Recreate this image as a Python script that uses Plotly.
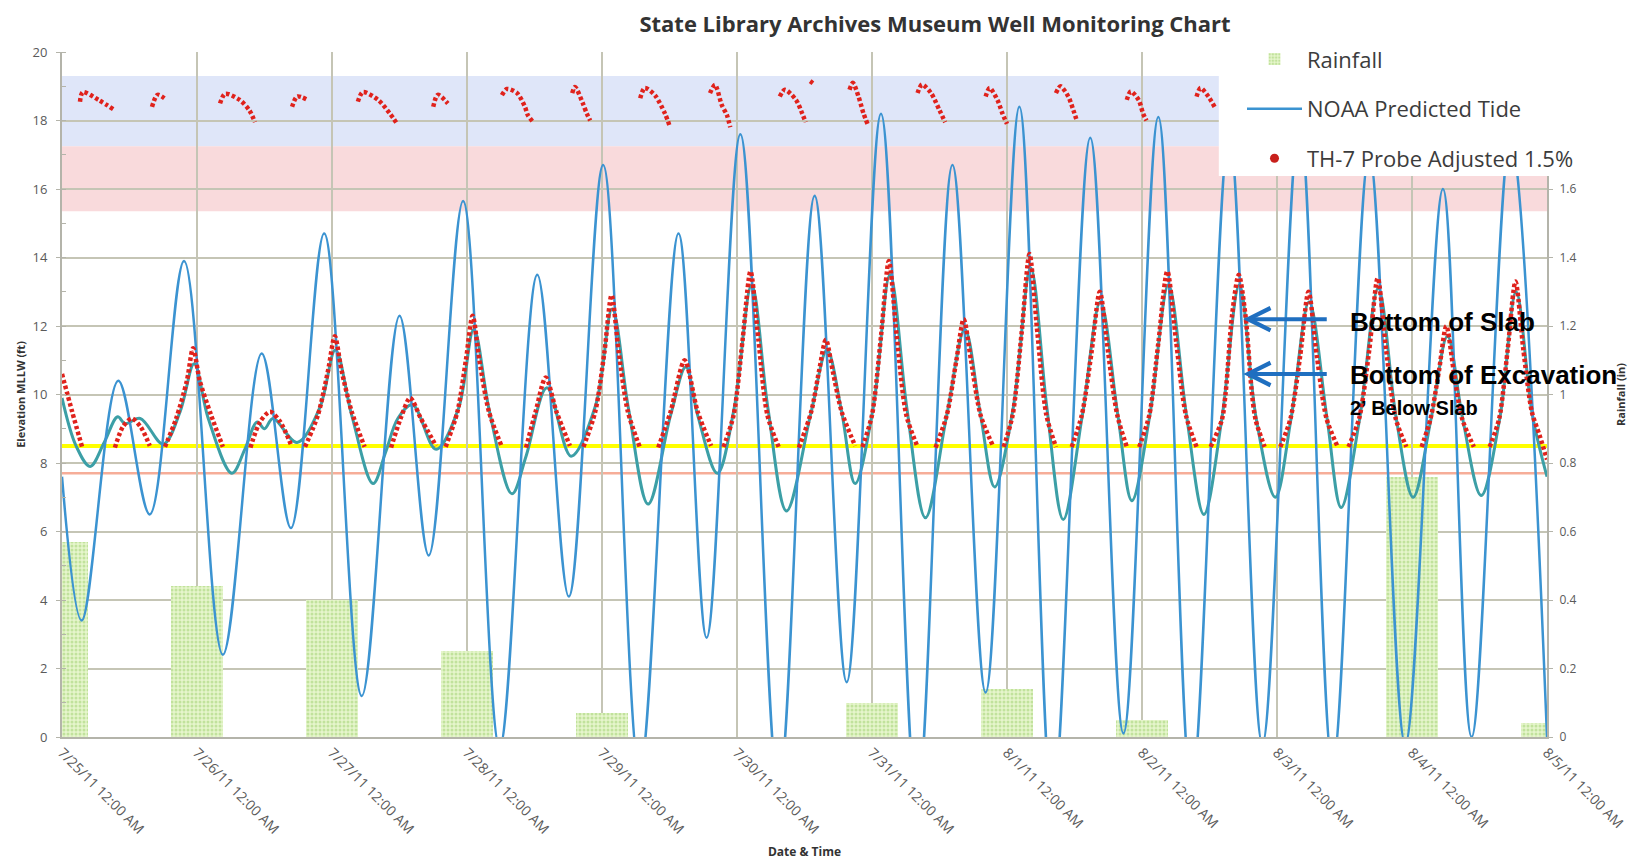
import pandas as pd
import plotly.graph_objects as go

START = pd.Timestamp("2011-07-25 00:00")
END = pd.Timestamp("2011-08-05 00:00")

# ---------------- data ----------------
day_dates = ["2011-07-25", "2011-07-26", "2011-07-27", "2011-07-28", "2011-07-29", "2011-07-30",
             "2011-07-31", "2011-08-01", "2011-08-02", "2011-08-03", "2011-08-04", "2011-08-05"]
day_labels = ["7/25/11 12:00 AM", "7/26/11 12:00 AM", "7/27/11 12:00 AM", "7/28/11 12:00 AM",
              "7/29/11 12:00 AM", "7/30/11 12:00 AM", "7/31/11 12:00 AM", "8/1/11 12:00 AM",
              "8/2/11 12:00 AM", "8/3/11 12:00 AM", "8/4/11 12:00 AM", "8/5/11 12:00 AM"]

rain_in = [0.57, 0.44, 0.40, 0.25, 0.07, 0.0, 0.10, 0.14, 0.05, 0.0, 0.76, 0.04]
rain_ticks = [0, 0.2, 0.4, 0.6, 0.8, 1.0, 1.2, 1.4, 1.6]
rain_tick_labels = ["0", "0.2", "0.4", "0.6", "0.8", "1", "1.2", "1.4", "1.6"]

# NOAA predicted tide: highs and lows (hours after 7/25 00:00, ft MLLW)
tide_hours = [0, 3.5, 10.0, 15.6, 21.7, 28.6, 35.5, 40.7, 46.6, 53.3, 60.0, 65.2, 71.3, 77.8,
              84.5, 90.1, 96.2, 102.7, 109.6, 114.6, 120.6, 127.4, 133.8, 139.5, 145.6, 152.0,
              158.3, 164.2, 170.2, 176.1, 182.8, 188.7, 194.9, 200.8, 207.5, 213.4, 220.0,
              225.9, 232.4, 238.8, 245.5, 250.6, 257.5, 264.0]
tide_ft = [7.6, 3.4, 10.4, 6.5, 13.9, 2.4, 11.2, 6.1, 14.7, 1.2, 12.3, 5.3, 15.65, -0.3,
           13.5, 4.1, 16.7, -1.0, 14.7, 2.9, 17.6, -1.5, 15.8, 1.6, 18.2, -2.0,
           16.7, 1.3, 18.4, -2.0, 17.5, 0.1, 18.1, -1.5, 17.6, -0.2, 18.0,
           -0.8, 17.0, -0.2, 16.0, 0.0, 17.5, 0.0]

# second (teal) well trace
teal_hours = [0, 2.5, 5.0, 7.5, 9.9, 11.2, 13.9, 18.0, 21.0, 23.5, 26.0, 30.2, 32.5, 34.7, 36.0,
              37.5, 41.8, 45.8, 48.6, 51.5, 55.3, 57.5, 59.7, 62.3, 66.5, 70.5, 73.2, 76.0,
              80.0, 82.5, 86.2, 90.5, 94.9, 97.8, 100.7, 104.2, 108.2, 110.9, 113.0, 116.5,
              119.5, 122.6, 125.5, 128.8, 133.2, 136.0, 138.6, 141.0, 144.2, 147.2, 150.2,
              153.5, 157.3, 160.5, 163.3, 165.8, 169.1, 172.2, 175.1, 178.0, 181.4, 184.6,
              187.7, 190.2, 193.4, 196.7, 199.9, 203.0, 206.2, 209.3, 212.3, 215.7, 218.5,
              221.7, 224.9, 227.4, 230.7, 234.0, 237.2, 240.2, 243.4, 246.3, 249.0, 252.3,
              255.6, 258.5, 261.4, 264.0]
teal_ft = [9.9, 8.5, 7.9, 8.6, 9.35, 9.15, 9.3, 8.55, 9.5, 10.9, 9.3, 7.7, 8.4, 9.2, 9.0,
           9.3, 8.6, 9.6, 11.3, 9.4, 7.4, 8.3, 9.3, 9.7, 8.4, 9.6, 11.9, 9.5,
           7.1, 8.2, 10.2, 8.2, 9.7, 12.5, 9.6, 6.8, 9.4, 10.8, 9.4, 7.7,
           9.6, 13.2, 9.6, 6.6, 9.5, 11.3, 9.5, 7.4, 9.6, 13.5, 9.6,
           6.4, 9.4, 11.9, 9.4, 7.3, 9.6, 13.7, 9.6, 6.35, 9.4, 12.7,
           9.4, 6.9, 9.4, 13.2, 9.4, 6.5, 9.3, 13.2, 9.3, 7.0, 9.3,
           12.7, 9.3, 6.7, 9.3, 13.1, 9.3, 7.0, 9.3, 11.7, 9.3, 7.05,
           9.3, 13.0, 9.4, 7.6]

# TH-7 probe readings (segments separated by None)
th7_hours = [0, 1.8, 3.6, None,
             3.2, 3.7, 6.5, 9.4, None,
             9.4, 10.8, 12.4, 14.0, 15.6, None,
             16.0, 17.0, 18.6, None,
             18.3, 20.3, 22.2, 23.3, 24.5, 26.5, 28.6, None,
             28.1, 29.0, 31.6, 33.3, 34.3, None,
             33.5, 35.2, 37.0, 38.8, 40.8, None,
             40.9, 41.8, 43.7, None,
             43.2, 45.5, 47.3, 48.5, 49.7, 51.5, 53.8, None,
             52.6, 53.5, 56.2, 58.3, 59.6, None,
             58.5, 60.2, 61.9, 63.8, 66.5, None,
             66.0, 66.8, 68.6, None,
             68.2, 70.3, 71.8, 73.0, 74.2, 75.9, 78.2, None,
             78.2, 79.1, 80.9, 82.3, 82.8, 83.7, None,
             82.5, 84.2, 86.0, 87.9, 90.3, None,
             90.7, 91.2, 92.6, 93.3, 93.9, None,
             92.7, 94.8, 96.4, 97.7, 99.0, 100.6, 102.7, None,
             102.8, 103.6, 105.4, 107.2, 108.1, None,
             106.0, 108.2, 110.7, 113.0, 115.4, None,
             115.2, 116.1, 117.3, 118.2, 118.8, None,
             117.6, 119.4, 121.0, 122.4, 123.8, 125.4, 127.4, None,
             127.6, 128.5, 130.5, 131.6, 132.2, None,
             133.0, 133.8, None,
             131.0, 133.2, 134.6, 135.8, 137.0, 138.6, 141.0, None,
             140.0, 140.6, 141.6, 142.5, 143.2, None,
             142.3, 144.0, 145.6, 147.0, 148.4, 150.1, 152.1, None,
             152.1, 152.9, 154.5, 156.0, 157.0, None,
             155.3, 157.3, 159.0, 160.3, 161.6, 163.3, 165.5, None,
             164.2, 164.9, 166.3, 167.2, 168.0, None,
             167.4, 169.0, 170.6, 172.0, 173.4, 175.0, 176.7, None,
             176.7, 177.5, 178.9, 179.8, 180.4, None,
             179.5, 181.3, 183.0, 184.5, 186.0, 187.6, 189.3, None,
             189.3, 190.0, 191.4, 192.2, 192.8, None,
             191.5, 193.3, 194.9, 196.5, 198.1, 199.8, 201.7, None,
             201.7, 202.4, 203.8, 204.9, None,
             204.2, 206.2, 206.9, 208.0, 209.2, 210.4, 211.5, 212.2, 213.8, None,
             216.6, 218.4, 220.1, 221.6, 223.1, 224.8, 226.8, None,
             228.7, 230.6, 232.4, 233.9, 235.4, 237.1, 239.0, None,
             241.7, 243.3, 244.8, 246.1, 247.4, 248.9, 251.0, None,
             253.8, 255.5, 257.0, 258.4, 259.8, 261.3, 262.7, 264.0]
th7_ft = [10.6, 9.5, 8.45, None,
          18.55, 18.83, 18.6, 18.3, None,
          8.45, 9.05, 9.3, 9.05, 8.5, None,
          18.4, 18.75, 18.6, None,
          8.47, 9.3, 10.4, 11.35, 10.4, 9.4, 8.47, None,
          18.5, 18.78, 18.6, 18.3, 17.95, None,
          8.45, 9.2, 9.5, 9.2, 8.5, None,
          18.4, 18.7, 18.6, None,
          8.47, 9.4, 10.7, 11.7, 10.7, 9.5, 8.47, None,
          18.55, 18.83, 18.6, 18.2, 17.9, None,
          8.45, 9.3, 9.9, 9.3, 8.5, None,
          18.4, 18.75, 18.5, None,
          8.47, 9.5, 11.0, 12.3, 11.0, 9.5, 8.47, None,
          18.74, 18.92, 18.8, 18.4, 18.16, 17.96, None,
          8.45, 9.5, 10.5, 9.5, 8.5, None,
          18.8, 18.98, 18.5, 18.2, 18.0, None,
          8.47, 9.5, 11.2, 12.9, 11.2, 9.5, 8.47, None,
          18.65, 18.95, 18.74, 18.2, 17.8, None,
          8.45, 9.5, 11.0, 9.5, 8.5, None,
          18.8, 19.04, 18.45, 18.16, 17.8, None,
          8.47, 9.4, 11.6, 13.6, 11.6, 9.4, 8.47, None,
          18.7, 18.9, 18.6, 18.2, 17.95, None,
          19.15, 19.05, None,
          8.45, 9.5, 10.7, 11.6, 10.7, 9.5, 8.5, None,
          18.9, 19.1, 18.7, 18.2, 17.9, None,
          8.47, 9.4, 11.7, 13.9, 11.7, 9.4, 8.47, None,
          18.8, 19.05, 18.8, 18.3, 17.95, None,
          8.45, 9.4, 11.0, 12.2, 11.0, 9.4, 8.5, None,
          18.7, 18.95, 18.6, 18.2, 17.9, None,
          8.47, 9.4, 11.8, 14.1, 11.8, 9.4, 8.47, None,
          18.8, 19.0, 18.7, 18.3, 18.0, None,
          8.47, 9.4, 11.2, 13.0, 11.2, 9.4, 8.47, None,
          18.6, 18.85, 18.6, 18.2, 18.0, None,
          8.47, 9.4, 11.5, 13.6, 11.5, 9.4, 8.47, None,
          18.7, 18.95, 18.7, 18.4, None,
          8.47, 9.26, 10.1, 12.3, 13.5, 12.3, 10.1, 9.26, 8.47, None,
          8.47, 9.3, 11.1, 13.0, 11.1, 9.3, 8.47, None,
          8.47, 9.3, 11.3, 13.4, 11.3, 9.3, 8.47, None,
          8.47, 9.3, 10.7, 12.0, 10.7, 9.3, 8.47, None,
          8.47, 9.3, 11.3, 13.3, 11.3, 9.5, 8.8, 8.1]

# reference levels (ft MLLW)
blue_band = (17.25, 19.3)
pink_band = (15.35, 17.25)
yellow_level = 8.5
salmon_level = 7.7
slab_level = 12.2
excavation_level = 10.6


def to_time(hours):
    return [None if h is None else START + pd.Timedelta(hours=h) for h in hours]


BAR_WIDTH_MS = 0.387 * 24 * 3600 * 1000

# page body has an 8px margin: figure sized so that the page fits the window
FIG_W, FIG_H = 1633, 852

fig = go.Figure()

fig.add_trace(go.Bar(
    x=pd.to_datetime(day_dates), y=rain_in, width=BAR_WIDTH_MS, name="Rainfall",
    xaxis="x", yaxis="y", legendgroup="a",
    marker=dict(color="#e2f3c6", line=dict(width=0),
                pattern=dict(shape=".", fgcolor="#9ccf6c", bgcolor="#e6f5cc", size=4, solidity=0.45)),
))

fig.add_trace(go.Scatter(
    x=to_time(teal_hours), y=teal_ft, mode="lines", yaxis="y2", showlegend=False,
    line=dict(color="#3c9fa6", width=3, shape="spline", smoothing=1.0),
    hoverinfo="skip",
))

fig.add_trace(go.Scatter(
    x=to_time(tide_hours), y=tide_ft, mode="lines", yaxis="y2", name="NOAA Predicted Tide",
    legendgroup="b",
    line=dict(color="#3b93d1", width=2.5, shape="spline", smoothing=1.0),
))

fig.add_trace(go.Scatter(
    x=to_time(th7_hours), y=th7_ft, mode="lines", yaxis="y2", showlegend=False,
    connectgaps=False,
    line=dict(color="#e0221c", width=4.5, dash="3.5px,2.5px", shape="spline", smoothing=0.8),
))

fig.add_trace(go.Scatter(
    x=[None], y=[None], mode="markers", yaxis="y2", name="TH-7 Probe Adjusted 1.5%",
    legendgroup="c", marker=dict(color="#c8201c", size=9),
))

shapes = [
    dict(type="rect", xref="paper", x0=0, x1=1, yref="y2", y0=blue_band[0], y1=blue_band[1],
         fillcolor="#dfe6f9", line=dict(width=0), layer="below"),
    dict(type="rect", xref="paper", x0=0, x1=1, yref="y2", y0=pink_band[0], y1=pink_band[1],
         fillcolor="#f9dadc", line=dict(width=0), layer="below"),
    dict(type="line", xref="paper", x0=0, x1=1, yref="y2", y0=yellow_level, y1=yellow_level,
         line=dict(color="#ffff00", width=4), layer="below"),
    dict(type="line", xref="paper", x0=0, x1=1, yref="y2", y0=salmon_level, y1=salmon_level,
         line=dict(color="#f6ad98", width=2.5), layer="below"),
    dict(type="rect", xref="paper", x0=0.779, x1=1.07, yref="paper", y0=0.819, y1=1.012,
         fillcolor="white", line=dict(width=0), layer="above"),
]

arrow_tip_h = 210.0
text_h = 228.6
annotations = [
    dict(x=to_time([arrow_tip_h])[0], y=slab_level, xref="x", yref="y2", text="", showarrow=True,
         arrowhead=5, arrowsize=1.1, arrowwidth=4, arrowcolor="#1f6fc0", ax=85, ay=0, standoff=0),
    dict(x=to_time([arrow_tip_h])[0], y=excavation_level, xref="x", yref="y2", text="", showarrow=True,
         arrowhead=5, arrowsize=1.1, arrowwidth=4, arrowcolor="#1f6fc0", ax=85, ay=0, standoff=0),
    dict(x=to_time([text_h])[0], y=12.12, xref="x", yref="y2", text="<b>Bottom of Slab</b>",
         showarrow=False, xanchor="left", yanchor="middle",
         font=dict(family="Liberation Sans, Arial", size=26, color="black")),
    dict(x=to_time([text_h])[0], y=10.57, xref="x", yref="y2", text="<b>Bottom of Excavation</b>",
         showarrow=False, xanchor="left", yanchor="middle",
         font=dict(family="Liberation Sans, Arial", size=26, color="black")),
    dict(x=to_time([text_h])[0], y=9.6, xref="x", yref="y2", text="<b>2\u2019 Below Slab</b>",
         showarrow=False, xanchor="left", yanchor="middle",
         font=dict(family="Liberation Sans, Arial", size=20, color="black")),
]

GRID = "#c5c5b5"
AXL = "#b4b4aa"
TICKF = dict(family="Open Sans", size=12, color="#5a5a5a")

fig.update_layout(
    width=FIG_W, height=FIG_H,
    margin=dict(l=54, r=94, t=44, b=123, autoexpand=False),
    paper_bgcolor="white", plot_bgcolor="white",
    title=dict(text="<b>State Library Archives Museum Well Monitoring Chart</b>",
               x=927 / FIG_W, xanchor="center", y=1 - 16 / FIG_H, yanchor="middle",
               font=dict(family="Open Sans", size=22, color="#333333")),
    bargap=0,
    shapes=shapes,
    annotations=annotations,
    legend=dict(x=(1242 - 62) / 1485, xanchor="left", y=1.02, yanchor="top",
                bgcolor="rgba(0,0,0,0)", font=dict(family="Open Sans", size=22, color="#3c3c3c"),
                itemwidth=55, traceorder="grouped", tracegroupgap=18),
    xaxis=dict(type="date", range=[START, END], tickmode="array", automargin=False,
               tickvals=pd.to_datetime(day_dates), ticktext=day_labels, tickangle=45,
               showgrid=True, gridcolor=GRID, gridwidth=2,
               showline=True, linecolor=AXL, linewidth=2, ticks="",
               tickfont=dict(family="Open Sans", size=14, color="#5a5a5a"),
               zeroline=False,
               title=dict(text="<b>Date &amp; Time</b>", font=dict(family="Open Sans", size=12, color="#333"),
                          standoff=11)),
    yaxis=dict(range=[0, 2], side="right", tickmode="array", tickvals=rain_ticks, automargin=False,
               ticktext=rain_tick_labels, showgrid=False, showline=True, linecolor=AXL,
               linewidth=2, ticks="outside", ticklen=4, tickcolor=AXL, tickfont=TICKF,
               ticklabelstandoff=4, zeroline=False,
               title=dict(text="<b>Rainfall (in)</b>", font=dict(family="Open Sans", size=11, color="#333"),
                          standoff=42)),
    yaxis2=dict(range=[0, 20], overlaying="y", side="left", tick0=0, dtick=2, automargin=False,
                showgrid=True, gridcolor=GRID, gridwidth=1.5,
                showline=True, linecolor=AXL, linewidth=2, ticks="outside", ticklen=4,
                tickcolor=AXL, tickfont=dict(family="Open Sans", size=13, color="#5a5a5a"),
                ticklabelstandoff=6, zeroline=False,
                minor=dict(dtick=1, ticks="inside", ticklen=4, tickcolor=AXL, showgrid=False),
                title=dict(text="<b>Elevation MLLW (ft)</b>",
                           font=dict(family="Open Sans", size=11, color="#333"), standoff=5)),
)

fig.write_html("out.html")
